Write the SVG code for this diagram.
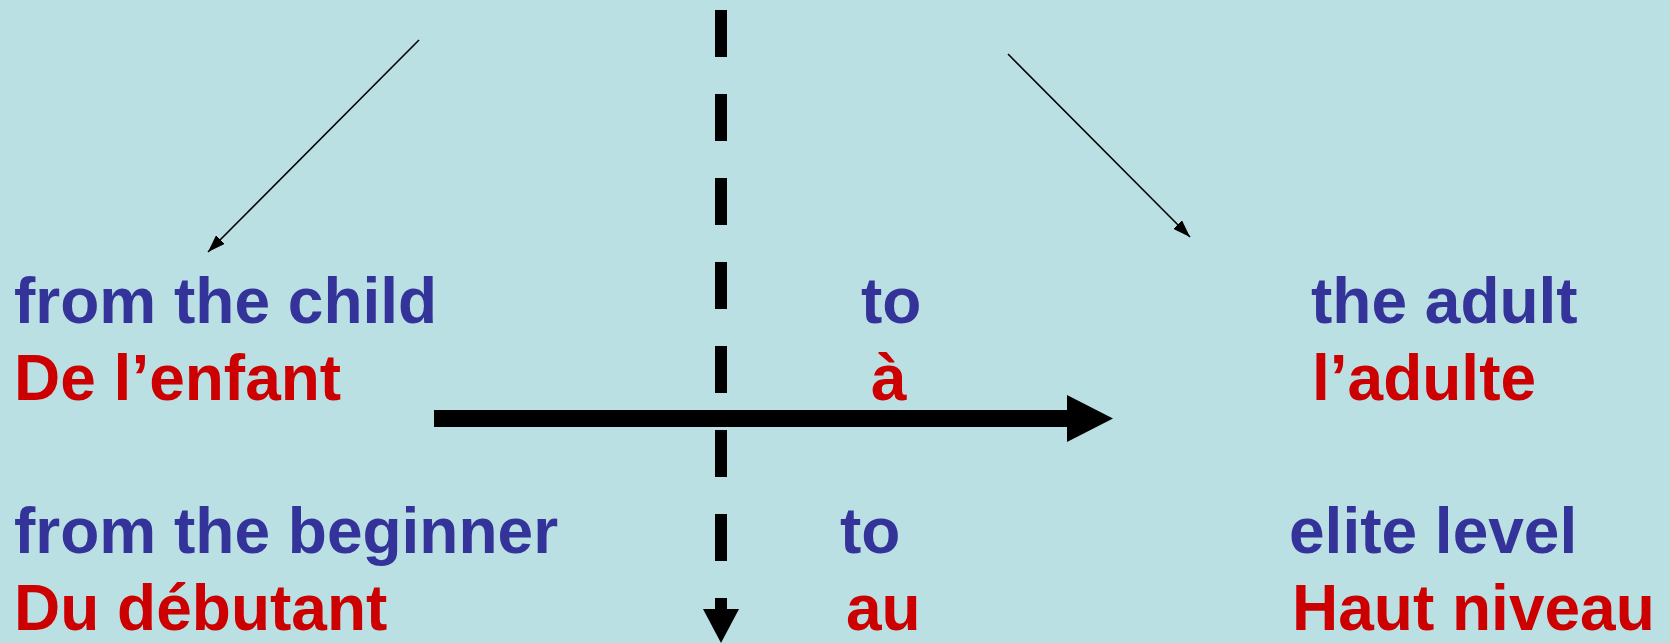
<svg xmlns="http://www.w3.org/2000/svg" width="1670" height="643" viewBox="0 0 1670 643">
<defs>
<style>
.t{font-family:"Liberation Sans",Arial,sans-serif;font-weight:bold;font-size:64px}
.b{fill:#333399}
.r{fill:#CC0000}
.thin{stroke:#000;stroke-width:1.6;fill:none}
</style>
<marker id="ah" viewBox="0 0 10 7" refX="10" refY="3.5" markerWidth="11" markerHeight="7.7" markerUnits="strokeWidth" orient="auto">
<path d="M0,0 L10,3.5 L0,7 z" fill="#000"/>
</marker>
</defs>
<rect width="1670" height="643" fill="#BBE0E3"/>
<g id="connectors">
<line x1="721" y1="10" x2="721" y2="612" stroke="#000" stroke-width="12" stroke-dasharray="47 37"/>
<polygon points="703,609 739,609 721,643" fill="#000"/>
<rect x="434" y="410" width="634" height="17" fill="#000"/>
<polygon points="1067,395 1113,418.5 1067,442" fill="#000"/>
<line class="thin" x1="419" y1="40" x2="208" y2="252" marker-end="url(#ah)"/>
<line class="thin" x1="1008" y1="54" x2="1190" y2="237" marker-end="url(#ah)"/>
</g>
<g id="n-child"><text class="t b" x="14" y="323">from the child</text></g>
<g id="n-enfant"><text class="t r" x="14" y="400">De l’enfant</text></g>
<g id="n-to1"><text class="t b" x="861" y="323">to</text></g>
<g id="n-a"><text class="t r" x="871" y="400">à</text></g>
<g id="n-adult"><text class="t b" x="1311" y="323">the adult</text></g>
<g id="n-adulte"><text class="t r" x="1312" y="400">l’adulte</text></g>
<g id="n-beginner"><text class="t b" x="14" y="553">from the beginner</text></g>
<g id="n-debutant"><text class="t r" x="14" y="630">Du débutant</text></g>
<g id="n-to2"><text class="t b" x="840" y="553">to</text></g>
<g id="n-au"><text class="t r" x="846" y="630">au</text></g>
<g id="n-elite"><text class="t b" x="1289" y="553">elite level</text></g>
<g id="n-haut"><text class="t r" x="1292" y="630">Haut niveau</text></g>
</svg>
